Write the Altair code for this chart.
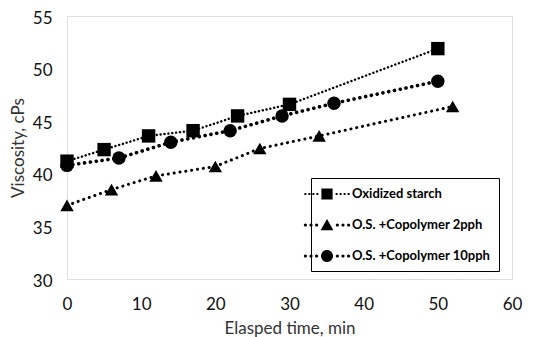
import altair as alt
import pandas as pd

series_names = ["Oxidized starch", "O.S. +Copolymer 2pph", "O.S. +Copolymer 10pph"]

os_time = [0, 5, 11, 17, 23, 30, 50]
os_visc = [41.2, 42.3, 43.6, 44.1, 45.5, 46.6, 51.9]

c2_time = [0, 6, 12, 20, 26, 34, 52]
c2_visc = [37.0, 38.5, 39.8, 40.7, 42.4, 43.6, 46.4]

c10_time = [0, 7, 14, 22, 29, 36, 50]
c10_visc = [40.8, 41.5, 43.0, 44.1, 45.5, 46.7, 48.8]

x_ticks = [0, 10, 20, 30, 40, 50, 60]
y_ticks = [30, 35, 40, 45, 50, 55]

rows = []
for name, ts, vs in zip(series_names, [os_time, c2_time, c10_time], [os_visc, c2_visc, c10_visc]):
    for t, v in zip(ts, vs):
        rows.append({"series": name, "time": t, "visc": v})
df = pd.DataFrame(rows)

FONT = "Lato"

x_enc = alt.X("time:Q", scale=alt.Scale(domain=[0, 60], nice=False),
              axis=alt.Axis(values=x_ticks, title="Elasped time, min", grid=False, ticks=False,
                            domain=False, labelPadding=17, titlePadding=8, labelFontSize=17,
                            labelFlush=False, labelOverlap=False,
                            titleFontSize=17, titleFontWeight="normal", labelColor="#111",
                            titleColor="#333", labelFont=FONT, titleFont=FONT))
y_enc = alt.Y("visc:Q", scale=alt.Scale(domain=[30, 55], nice=False, zero=False),
              axis=alt.Axis(values=y_ticks, title="Viscosity, cPs", grid=False, ticks=False,
                            domain=False, labelPadding=15, titlePadding=5, labelFontSize=17,
                            labelFlush=False, labelOverlap=False, labelOffset=2,
                            titleFontSize=17, titleFontWeight="normal", labelColor="#111",
                            titleColor="#333", labelFont=FONT, titleFont=FONT))

lines = alt.Chart(df).mark_line(color="black", strokeCap="round").encode(
    x=x_enc, y=y_enc,
    detail="series:N",
    strokeWidth=alt.StrokeWidth("series:N", scale=alt.Scale(domain=series_names, range=[2.4, 3.6, 3.6]), legend=None),
    strokeDash=alt.StrokeDash("series:N", scale=alt.Scale(domain=series_names, range=[[0.1, 3.8], [0.1, 5.8], [0.1, 5.8]]), legend=None),
)

points = alt.Chart(df).mark_point(filled=True, color="black", opacity=1, size=180).encode(
    x=x_enc, y=y_enc,
    shape=alt.Shape("series:N", scale=alt.Scale(domain=series_names, range=["square", "triangle-up", "circle"]), legend=None),
)

fine = " ".join(f"M{x - 0.12:.2f},-0.12 h0.24 v0.24 h-0.24 Z" for x in [-2.7, -2.2, -1.7, -1.2, 1.2, 1.7, 2.2, 2.7])
def bold_dots():
    parts = []
    for x in [-2.7, -2.0, -1.3, 1.3, 2.0, 2.7]:
        r = 0.2
        parts.append(f"M{x + r:.2f},0 A{r},{r} 0 1 1 {x - r:.2f},0 A{r},{r} 0 1 1 {x + r:.2f},0 Z")
    return " ".join(parts)

path_square = fine + " M-0.7,-0.7 h1.4 v1.4 h-1.4 Z"
path_tri = bold_dots() + " M0,-0.75 L0.8,0.65 L-0.8,0.65 Z"
path_circ = bold_dots() + " M0.75,0 A0.75,0.75 0 1 1 -0.75,0 A0.75,0.75 0 1 1 0.75,0 Z"

legend_layer = alt.Chart(df).transform_filter("datum.time < 0").mark_point(
    filled=True, color="black", opacity=1, size=256).encode(
    x=x_enc, y=y_enc,
    shape=alt.Shape("series:N", scale=alt.Scale(domain=series_names, range=[path_square, path_tri, path_circ]),
                    legend=alt.Legend(title=None, orient="none", legendX=244, legendY=162,
                                      strokeColor="black", padding=8, fillColor="white",
                                      symbolSize=256, symbolFillColor="black", symbolStrokeWidth=0,
                                      symbolOpacity=1,
                                      labelOffset=17, rowPadding=16, labelFont=FONT,
                                      labelFontSize=13, labelFontWeight="bold", labelColor="black",
                                      labelLimit=300)),
)

chart = alt.layer(lines, points, legend_layer).resolve_scale(shape="independent").properties(
    width=445, height=263,
    autosize=alt.AutoSizeParams(type="none"),
    padding={"left": 59, "top": 8, "right": 20, "bottom": 58},
).configure_view(stroke="black", strokeWidth=2.5).configure(background="white")

chart.save("out.html", embed_options={"renderer": "svg", "actions": False})
